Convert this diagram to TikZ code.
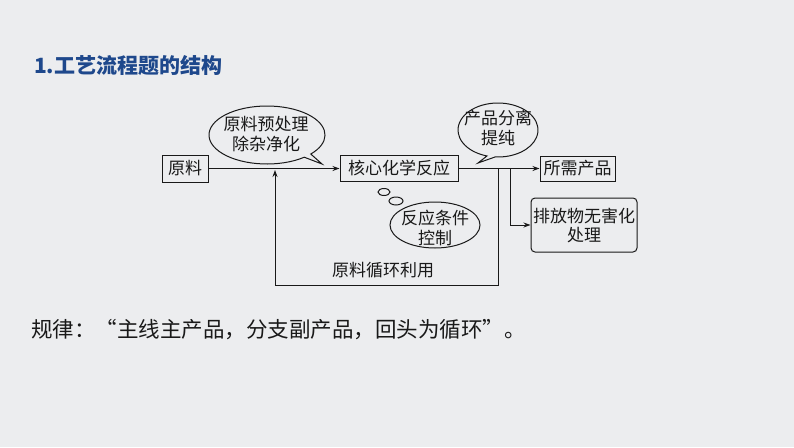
\documentclass[tikz,border=0pt]{standalone}
\usepackage{fontspec}
\setmainfont{Noto Sans CJK SC}
\usetikzlibrary{arrows.meta}
\definecolor{bgc}{RGB}{236,237,239}
\definecolor{titleblue}{RGB}{30,72,140}
\definecolor{ink}{RGB}{25,25,25}
\tikzset{
  box/.style={draw=ink, line width=1pt, inner sep=0pt, text=ink, font=\fontsize{17}{19}\selectfont, align=center},
  conn/.style={draw=ink, line width=0.9pt, -{Stealth[length=7pt,width=5pt]}},
  bubble/.style={draw=ink, line width=1pt, fill=bgc},
  btext/.style={text=ink, font=\fontsize{17}{19.5}\selectfont, align=center, inner sep=0pt},
}
\begin{document}
\begin{tikzpicture}[x=1pt,y=-1pt]
\fill[bgc] (0,0) rectangle (794,447);
\useasboundingbox (0,0) rectangle (794,447);

% title
\node[anchor=west, text=titleblue, font=\bfseries\fontsize{21}{23}\selectfont, inner sep=0pt] (title) at (34,65) {1.工艺流程题的结构};

% boxes
\node[box, minimum width=46pt, minimum height=27pt] (raw) at (185,168.5) {原料};
\node[box, minimum width=118pt, minimum height=26pt] (core) at (399,168.5) {核心化学反应};
\node[box, minimum width=75pt, minimum height=25pt] (prod) at (577.5,168.5) {所需产品};
\node[box, rounded corners=4pt, minimum width=106pt, minimum height=54pt] (waste) at (584,225) {排放物无害化\\处理};

% connectors
\draw[conn] (raw.east) -- (core.west);
\draw[conn] (core.east) -- (prod.west);
\coordinate (br) at (510,168.5);
\draw[conn] (br) |- (waste.west);
\coordinate (loopA) at (498,168.5);
\coordinate (loopB) at (275,285);
\coordinate (loopEnd) at (275,170);
\draw[conn] (loopA) |- (loopB) -- (loopEnd);
\node[btext] (recycle) at (383,270) {原料循环利用};

% speech bubble 1
\draw[bubble] (267,135) ++(50:58 and 29) arc[start angle=50, end angle=401, x radius=58, y radius=29] -- (322,164) -- cycle;
\node[btext] (pre) at (266,134) {原料预处理\\除杂净化};

% speech bubble 2
\draw[bubble] (498,130) ++(106:40 and 27) arc[start angle=106, end angle=454, x radius=40, y radius=27] -- (478,163) -- cycle;
\node[btext] (sep) at (498,128) {产品分离\\提纯};

% thought bubble
\draw[bubble] (384,192) ellipse[x radius=6, y radius=3.5];
\draw[bubble] (396,201) ellipse[x radius=7, y radius=4];
\draw[bubble] (435,225) ellipse[x radius=45, y radius=23];
\node[btext] (cond) at (435,228) {反应条件\\控制};

% rule text
\node[anchor=west, text=ink, font=\fontsize{21.5}{24}\selectfont, inner sep=0pt] (rule) at (31,330) {规律：“主线主产品，分支副产品，回头为循环”。};
\end{tikzpicture}
\end{document}
